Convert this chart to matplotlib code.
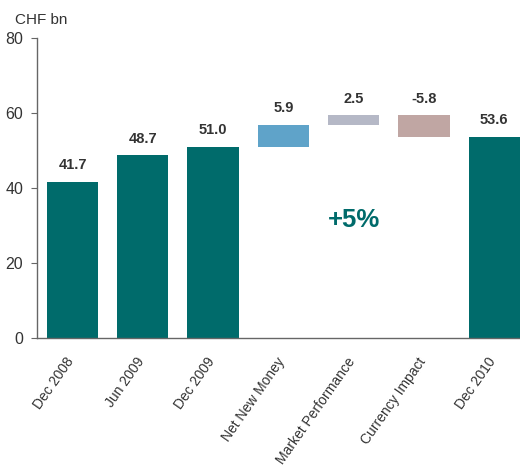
import numpy as np
import matplotlib
matplotlib.use("Agg")
import matplotlib.pyplot as plt
from matplotlib.transforms import ScaledTranslation

plt.rcParams["font.family"] = ["Liberation Sans", "DejaVu Sans"]

# Chart data.
categories = ["Dec 2008", "Jun 2009", "Dec 2009", "Net New Money",
              "Market Performance", "Currency Impact", "Dec 2010"]
totals = {0: 41.7, 1: 48.7, 2: 51.0, 6: 53.6}
steps = {3: 5.9, 4: 2.5, 5: -5.8}
labels = ["41.7", "48.7", "51.0", "5.9", "2.5", "-5.8", "53.6"]
growth_text = "+5%"

TEAL = "#006b6b"
step_colors = {3: "#5fa3c9", 4: "#b5b8c6", 5: "#c0a6a3"}

fig = plt.figure(figsize=(5.2, 4.72), dpi=100)
ax = fig.add_axes([0.0712, 0.2839, 0.9288, 0.6356])

width = 0.73
x = np.arange(len(categories))

# Totals.
for i, v in totals.items():
    ax.bar(i, v, width=width, color=TEAL)
    ax.annotate(labels[i], (i, v), xytext=(0, 7), textcoords="offset points",
                ha="center", va="bottom", fontsize=10.5, fontweight="bold",
                color="#333333")

# Floating steps.
level = totals[2]
for i in sorted(steps):
    d = steps[i]
    ax.bar(i, d, bottom=level, width=width, color=step_colors[i])
    top = max(level, level + d)
    ax.annotate(labels[i], (i, top), xytext=(0, 7), textcoords="offset points",
                ha="center", va="bottom", fontsize=10.5, fontweight="bold",
                color="#333333")
    level += d

ax.text(4, 31.5, growth_text, ha="center", va="center", fontsize=18.5,
        fontweight="bold", color=TEAL)

ax.set_xlim(-0.505, 6.365)
ax.set_ylim(0, 80)
ax.set_yticks([0, 20, 40, 60, 80])
ax.set_xticks(x)
ax.set_xticklabels(categories, rotation=55, ha="right", rotation_mode="anchor",
                   fontsize=10, color="#333333")
ax.tick_params(axis="x", length=0, pad=12)
ax.tick_params(axis="y", length=4, color="#666666", labelsize=11.5,
               labelcolor="#333333", pad=6)

# Shift the rotated labels slightly left, as in the source.
shift = ScaledTranslation(-0.07, 0, fig.dpi_scale_trans)
for lab in ax.get_xticklabels():
    lab.set_transform(lab.get_transform() + shift)

for s in ["top", "right"]:
    ax.spines[s].set_visible(False)
for s in ["left", "bottom"]:
    ax.spines[s].set_color("#666666")
    ax.spines[s].set_linewidth(1.0)

fig.text(15 / 520, 1 - 20 / 472, "CHF bn", ha="left", va="center",
         fontsize=11, color="#333333")

fig.savefig("out.png", dpi=100)
